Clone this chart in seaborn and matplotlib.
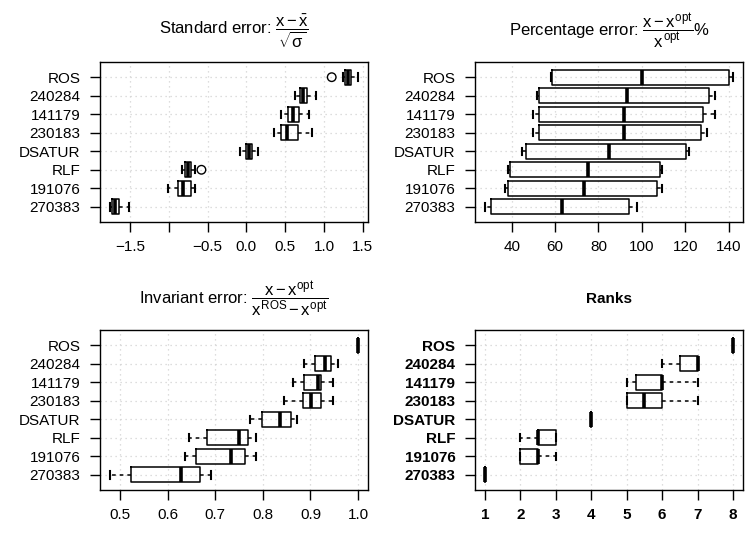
import os
import numpy as np
import pandas as pd
import matplotlib
matplotlib.use("Agg")
import matplotlib.pyplot as plt
from matplotlib import font_manager as fm
import seaborn as sns

# ---------------- data ----------------
categories = ["ROS", "240284", "141179", "230183", "DSATUR", "RLF", "191076", "270383"]

# five-number summaries per algorithm: (whisker low, Q1, median, Q3, whisker high)
standard_error = [
    (1.24, 1.27, 1.31, 1.35, 1.44),
    (0.63, 0.69, 0.73, 0.78, 0.90),
    (0.45, 0.54, 0.60, 0.68, 0.81),
    (0.36, 0.44, 0.52, 0.66, 0.84),
    (-0.08, -0.01, 0.03, 0.07, 0.15),
    (-0.83, -0.79, -0.75, -0.72, -0.66),
    (-1.01, -0.88, -0.82, -0.72, -0.66),
    (-1.76, -1.73, -1.69, -1.64, -1.52),
]
standard_outlier_cats = ["ROS", "RLF"]
standard_outlier_vals = [1.10, -0.58]

percentage_error = [
    (58.0, 58.4, 100.0, 140.0, 142.1),
    (51.7, 52.4, 93.3, 131.1, 133.9),
    (49.8, 52.4, 91.6, 128.3, 133.9),
    (49.8, 52.4, 91.6, 127.1, 130.0),
    (44.9, 46.6, 85.0, 120.3, 121.7),
    (38.3, 39.2, 75.0, 108.2, 109.3),
    (36.9, 38.2, 73.3, 107.1, 109.3),
    (27.6, 30.2, 63.2, 94.1, 97.9),
]

invariant_error = [
    (1.0, 1.0, 1.0, 1.0, 1.0),
    (0.886, 0.909, 0.930, 0.943, 0.958),
    (0.864, 0.887, 0.915, 0.923, 0.948),
    (0.845, 0.885, 0.902, 0.923, 0.948),
    (0.773, 0.798, 0.836, 0.859, 0.871),
    (0.645, 0.682, 0.750, 0.768, 0.785),
    (0.637, 0.660, 0.734, 0.763, 0.785),
    (0.479, 0.524, 0.628, 0.668, 0.691),
]

ranks = [
    (8, 8, 8, 8, 8),
    (6, 6.5, 7, 7, 7),
    (5, 5.25, 6, 6, 7),
    (5, 5, 5.5, 6, 7),
    (4, 4, 4, 4, 4),
    (2, 2.5, 2.5, 3, 3),
    (2, 2, 2.5, 2.5, 3),
    (1, 1, 1, 1, 1),
]

std_ticks = [-1.5, -1.0, -0.5, 0.0, 0.5, 1.0, 1.5]
std_ticklabels = ["\u22121.5", "", "\u22120.5", "0.0", "0.5", "1.0", "1.5"]
pct_ticks = [40, 60, 80, 100, 120, 140]
pct_ticklabels = ["40", "60", "80", "100", "120", "140"]
inv_ticks = [0.5, 0.6, 0.7, 0.8, 0.9, 1.0]
inv_ticklabels = ["0.5", "0.6", "0.7", "0.8", "0.9", "1.0"]
rank_ticks = [1, 2, 3, 4, 5, 6, 7, 8]
rank_ticklabels = ["1", "2", "3", "4", "5", "6", "7", "8"]

title_std = r"Standard error: $\dfrac{x\,{-}\,\bar{x}}{\sqrt{\sigma}}$"
title_pct = r"Percentage error: $\dfrac{x\,{-}\,x^{opt}}{x^{opt}}$%"
title_inv = r"Invariant error: $\dfrac{x\,{-}\,x^{opt}}{x^{ROS}\,{-}\,x^{opt}}$"
title_rank = "Ranks"

# ---------------- style ----------------
fm.fontManager.ttflist = [f for f in fm.fontManager.ttflist
                          if "narrow" not in os.path.basename(f.fname).lower()]
plt.rcParams["font.family"] = ["Liberation Sans", "DejaVu Sans"]
plt.rcParams["font.stretch"] = "normal"
plt.rcParams["mathtext.fontset"] = "custom"
plt.rcParams["mathtext.rm"] = "Liberation Sans"
plt.rcParams["mathtext.it"] = "Liberation Sans"
plt.rcParams["mathtext.sf"] = "Liberation Sans"
plt.rcParams["mathtext.bf"] = "Liberation Sans:bold"

W, H = 751, 533
fig = plt.figure(figsize=(W / 100, H / 100), dpi=100)


def px_axes(x0, y0, x1, y1):
    return fig.add_axes([x0 / W, 1 - y1 / H, (x1 - x0) / W, (y1 - y0) / H])


def draw_panel(ax, summaries, ticks, ticklabels, title, bold=False,
               out_cats=(), out_vals=()):
    rows = [(c, v) for c, s in zip(categories, summaries) for v in s]
    df = pd.DataFrame(rows, columns=["algorithm", "value"])
    sns.boxplot(data=df, x="value", y="algorithm", order=categories, orient="y",
                ax=ax, whis=(0, 100), width=0.8, fill=False, color="black",
                linewidth=1.1, showfliers=False,
                medianprops=dict(linewidth=2.6, solid_capstyle="butt"),
                whiskerprops=dict(linestyle=(0, (2.4, 2.6))),
                capprops=dict(linewidth=1.5))
    if len(out_vals):
        odf = pd.DataFrame({"value": list(out_vals),
                            "pos": [categories.index(c) for c in out_cats]})
        sns.scatterplot(data=odf, x="value", y="pos", ax=ax, marker="o", s=38,
                        facecolor="none", edgecolor="black", linewidth=1.0,
                        zorder=5, legend=False)
    allv = [v for s in summaries for v in s] + list(out_vals)
    lo, hi = min(allv), max(allv)
    pad = 0.04 * (hi - lo)
    ax.set_xlim(lo - pad, hi + pad)
    ax.set_ylim(len(categories) - 1 + 0.82, -0.82)
    ax.set_xticks(ticks)
    ax.set_xticklabels(ticklabels)
    ax.set_yticks(range(len(categories)))
    ax.set_yticklabels(categories)
    ax.set_xlabel("")
    ax.set_ylabel("")
    ax.set_axisbelow(True)
    ax.grid(True, color="#D3D3D3", linestyle=(0, (1, 3)), linewidth=0.9)
    for sp in ax.spines.values():
        sp.set_visible(True)
        sp.set_color("black")
        sp.set_linewidth(1.0)
    ax.tick_params(axis="x", direction="out", length=7.2, width=1.0, pad=6,
                   labelsize=11, colors="black")
    ax.tick_params(axis="y", direction="out", length=7.2, width=1.0, pad=7,
                   labelsize=11, colors="black")
    if bold:
        for lab in ax.get_xticklabels() + ax.get_yticklabels():
            lab.set_fontweight("bold")
    ax.text(0.5, 1.195, title, transform=ax.transAxes, ha="center", va="center",
            fontsize=11 if bold else 12, fontweight="bold" if bold else "normal")


ax1 = px_axes(100, 62, 368, 222)
ax2 = px_axes(475, 62, 743, 222)
ax3 = px_axes(100, 330, 368, 490)
ax4 = px_axes(475, 330, 743, 490)

draw_panel(ax1, standard_error, std_ticks, std_ticklabels, title_std,
           out_cats=standard_outlier_cats, out_vals=standard_outlier_vals)
draw_panel(ax2, percentage_error, pct_ticks, pct_ticklabels, title_pct)
draw_panel(ax3, invariant_error, inv_ticks, inv_ticklabels, title_inv)
draw_panel(ax4, ranks, rank_ticks, rank_ticklabels, title_rank, bold=True)

fig.savefig("out.png", dpi=100, facecolor="white")
